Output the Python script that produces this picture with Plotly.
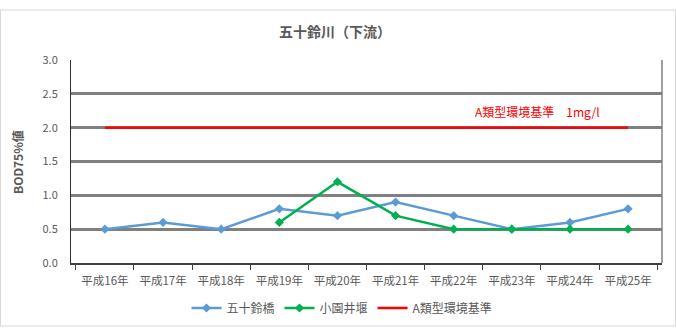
import plotly.graph_objects as go

categories = ["平成16年", "平成17年", "平成18年", "平成19年", "平成20年",
              "平成21年", "平成22年", "平成23年", "平成24年", "平成25年"]
isuzu_bashi = [0.5, 0.6, 0.5, 0.8, 0.7, 0.9, 0.7, 0.5, 0.6, 0.8]
kozono_iseki = [None, None, None, 0.6, 1.2, 0.7, 0.5, 0.5, 0.5, 0.5]
standard_a = [2.0] * 10

FONT = "Noto Sans CJK JP"
W, H = 676, 334
L, R, T, B = 71, 14, 60, 71
pw, ph = W - L - R, H - T - B

def px(x):
    return (x - L) / pw

def py(y):
    return (H - B - y) / ph

fig = go.Figure()
fig.add_trace(go.Scatter(x=categories, y=isuzu_bashi, name="五十鈴橋", mode="lines+markers",
                         line=dict(color="#5B9BD5", width=2.5),
                         marker=dict(symbol="diamond", size=7, color="#5B9BD5")))
fig.add_trace(go.Scatter(x=categories, y=kozono_iseki, name="小園井堰", mode="lines+markers",
                         line=dict(color="#00B050", width=2.5),
                         marker=dict(symbol="diamond", size=7, color="#00B050")))
fig.add_trace(go.Scatter(x=categories, y=standard_a, name="A類型環境基準", mode="lines",
                         line=dict(color="#FF0000", width=2.5)))

fig.update_layout(
    width=W, height=H,
    margin=dict(l=L, r=R, t=T, b=B, autoexpand=False),
    paper_bgcolor="white", plot_bgcolor="white",
    font=dict(family=FONT, color="#595959", size=11),
    title=dict(text="<b>五十鈴川（下流）</b>", x=335 / W, xref="container", xanchor="center",
               y=1 - 32 / H, yanchor="middle",
               font=dict(size=14, color="#595959", family=FONT)),
    showlegend=True,
    legend=dict(orientation="h", x=px(342), xanchor="center", y=py(308), yanchor="middle",
                font=dict(size=12, color="#595959"), itemwidth=30, traceorder="normal"),
    xaxis=dict(type="category", tickson="boundaries", ticks="outside", ticklen=5,
               tickcolor="#404040", showline=True, linecolor="#404040", linewidth=1.5,
               showgrid=False, automargin=False, ticklabelstandoff=6,
               tickfont=dict(size=11.5, color="#595959")),
    yaxis=dict(range=[0, 3.0], dtick=0.5, tickformat=".1f", showgrid=True,
               gridcolor="#808080", gridwidth=3, zeroline=False,
               showline=True, linecolor="#303030", linewidth=1, automargin=False,
               ticks="", ticklabelstandoff=10, tickfont=dict(size=11, color="#595959")),
)

fig.add_annotation(text="<b>BOD75%値</b>", x=px(17), y=py(162), xref="paper", yref="paper",
                   xanchor="center", yanchor="middle", textangle=-90, showarrow=False,
                   font=dict(size=12, color="#595959", family=FONT))

fig.add_annotation(text="A類型環境基準　1mg/l", x=px(537), y=py(111), xref="paper", yref="paper",
                   xanchor="center", yanchor="middle",
                   showarrow=False, font=dict(color="#FF0000", size=12, family=FONT))

# right border of plot area
fig.add_shape(type="line", xref="paper", yref="paper", x0=1, x1=1, y0=0, y1=1,
              line=dict(color="#808080", width=1.5))

fig.add_shape(type="rect", xref="paper", yref="paper",
              x0=px(0.5), x1=px(675.5), y0=py(326), y1=py(10),
              line=dict(color="#D9D9D9", width=1), layer="below")

fig.write_html("out.html")
